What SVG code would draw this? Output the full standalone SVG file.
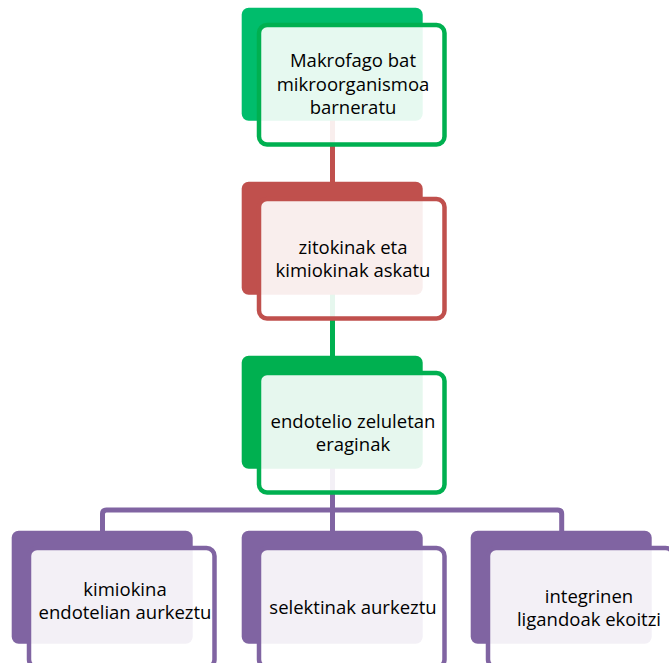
<svg xmlns="http://www.w3.org/2000/svg" width="669" height="663" viewBox="0 0 669 663">
<style>
.t{font-family:"Open Sans","Noto Sans","Liberation Sans",sans-serif;font-size:18.5px;fill:#000;text-anchor:middle}
.front{fill:#fff;fill-opacity:0.9;stroke-width:4.5}
.conn{fill:none;stroke-width:5;stroke-linejoin:round}
</style>
<rect width="669" height="663" fill="#fff"/>
<g id="connectors">
<path class="conn" stroke="#C0504D" d="M332.5 118 V184"/>
<path class="conn" stroke="#00B050" d="M332.5 293 V358"/>
<path class="conn" stroke="#8064A2" d="M332.5 467 V533 M102.5 533 V514 Q102.5 510 106.5 510 H557.7 Q561.7 510 561.7 514 V533"/>
</g>
<g id="node1">
<rect x="241.7" y="7.7" width="181" height="113" rx="7" fill="#00BD6C"/>
<rect class="front" x="259" y="25" width="185.5" height="119.5" rx="8" stroke="#00B050"/>
<text class="t" x="353" y="67">Makrofago bat</text>
<text class="t" x="353" y="90.5">mikroorganismoa</text>
<text class="t" x="353" y="114">barneratu</text>
</g>
<g id="node2">
<rect x="241.7" y="181.7" width="181" height="113" rx="7" fill="#C0504D"/>
<rect class="front" x="259" y="199" width="185.5" height="119.5" rx="8" stroke="#C0504D"/>
<text class="t" x="353" y="254">zitokinak eta</text>
<text class="t" x="353" y="277">kimiokinak askatu</text>
</g>
<g id="node3">
<rect x="241.7" y="355.7" width="181" height="113" rx="7" fill="#00B050"/>
<rect class="front" x="259" y="373" width="185.5" height="119.5" rx="8" stroke="#00B050"/>
<text class="t" x="353" y="427.5">endotelio zeluletan</text>
<text class="t" x="353" y="450.8">eraginak</text>
</g>
<g id="node4">
<rect x="11.7" y="530.7" width="181" height="113" rx="7" fill="#8064A2"/>
<rect class="front" x="29" y="548" width="185.5" height="119.5" rx="8" stroke="#8064A2"/>
<text class="t" x="125" y="596.3">kimiokina</text>
<text class="t" x="125" y="619.3">endotelian aurkeztu</text>
</g>
<g id="node5">
<rect x="241.7" y="530.7" width="181" height="113" rx="7" fill="#8064A2"/>
<rect class="front" x="259" y="548" width="185.5" height="119.5" rx="8" stroke="#8064A2"/>
<text class="t" x="353" y="614">selektinak aurkeztu</text>
</g>
<g id="node6">
<rect x="470.7" y="530.7" width="181" height="113" rx="7" fill="#8064A2"/>
<rect class="front" x="488" y="548" width="185.5" height="119.5" rx="8" stroke="#8064A2"/>
<text class="t" x="589" y="603">integrinen</text>
<text class="t" x="589" y="626.2">ligandoak ekoitzi</text>
</g>
</svg>
